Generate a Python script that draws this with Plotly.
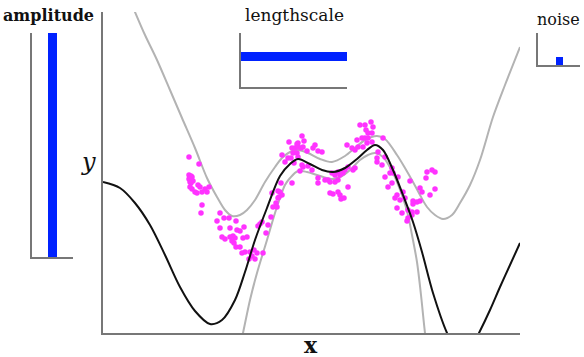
import plotly.graph_objects as go

# ---- GP mean and +/- 2 sd curves (x, y in chart units) ----
mean_x = [0, 17, 32, 47, 62, 77, 92, 107, 119, 132, 142, 152, 164, 177, 187, 195, 207, 219, 230, 242, 254, 264, 272, 280, 290, 300, 310, 319, 330, 344, 352, 360, 368, 376, 387, 397, 407, 417]
mean_y = [151, 145, 130, 108, 78, 46, 22, 9, 13, 33, 61, 93, 125, 157, 169, 174, 169, 163, 161, 165, 174, 183, 188, 183, 163, 138, 111, 81, 40, 0, -15, -22, -15, 0, 23, 46, 68, 90]

upper_x = [27, 32, 42, 54, 67, 79, 92, 104, 114, 122, 129, 137, 144, 152, 162, 172, 179, 187, 195, 205, 217, 229, 242, 252, 262, 274, 282, 294, 302, 310, 317, 324, 332, 340, 349, 357, 367, 377, 390, 402, 417]
upper_y = [333, 321, 298, 273, 243, 215, 185, 155, 136, 123, 117, 118, 123, 133, 151, 166, 175, 181, 183, 180, 174, 171, 177, 185, 193, 197, 194, 178, 165, 151, 138, 126, 118, 114, 118, 130, 148, 173, 216, 248, 286]

lower_x = [135, 140, 147, 154, 164, 172, 177, 182, 187, 195, 204, 214, 229, 239, 247, 257, 265, 272, 280, 290, 300, 305, 309, 314, 318, 322, 325]
lower_y = [-22, 0, 33, 60, 93, 120, 135, 148, 155, 162, 161, 158, 154, 157, 163, 173, 178, 180, 176, 160, 135, 118, 98, 71, 38, 0, -22]

# ---- observations ----
obs_x = [86, 96, 86, 88, 89, 86, 87, 90, 88, 87, 89, 92, 94, 95, 97, 99, 102, 104, 106, 99, 98,
         117, 121, 126, 114, 133, 117, 127, 134, 137, 141, 119, 122, 127, 130, 132, 129, 140, 144, 131, 133, 137, 139, 142, 147, 151, 154, 149, 146, 152, 160,
         155, 159, 157, 163, 168, 170, 173, 176, 177, 175, 169, 179, 175, 174, 178, 189, 179, 165,
         186, 195, 199, 201, 194, 189, 192, 195, 198, 190, 194, 200, 204, 210, 212, 215, 219, 185, 188, 195, 191, 199, 205, 197, 200, 182,
         215, 215, 222, 225, 227, 229, 232, 235, 237, 240, 235, 232, 227, 230, 235, 237, 238, 245, 241, 245, 242, 244, 249, 209,
         257, 262, 268, 270, 263, 265, 269, 254, 259, 262, 265, 269, 264, 255, 260, 252, 280, 275, 282, 274, 274, 252, 250, 279,
         289, 287, 290, 282, 295, 307, 289, 285, 300, 294, 292, 302, 297, 310, 314, 317, 310, 294, 299, 309, 314, 305, 304, 309, 305,
         324, 329, 332, 323, 317, 332, 319, 327]
obs_y = [176, 169, 158, 157, 156, 154, 151, 152, 150, 146, 144, 141, 140, 148, 146, 141, 144, 141, 146, 128, 120,
         120, 115, 115, 112, 112, 105, 105, 103, 102, 106, 96, 94, 96, 97, 95, 92, 95, 96, 90, 86, 86, 80, 81, 81, 83, 80, 77, 74, 74, 80,
         107, 111, 109, 100, 116, 126, 130, 136, 141, 142, 140, 138, 135, 126, 150, 150, 178, 108,
         191, 190, 197, 192, 189, 185, 185, 186, 185, 180, 180, 186, 182, 185, 188, 182, 181, 175, 175, 176, 170, 168, 167, 162, 166, 171,
         150, 155, 153, 153, 151, 160, 158, 161, 158, 160, 153, 151, 140, 139, 141, 138, 134, 146, 135, 166, 163, 188, 185, 163,
         208, 208, 211, 206, 203, 200, 200, 193, 195, 195, 195, 191, 190, 186, 186, 183, 195, 181, 176, 175, 171, 165, 163, 168,
         165, 160, 160, 156, 156, 152, 150, 146, 141, 138, 135, 135, 133, 132, 131, 132, 129, 125, 120, 121, 121, 115, 112, 118, 123,
         161, 163, 161, 155, 145, 144, 141, 138]

# ---- hyperparameter insets ----
amplitude = [1.0]
lengthscale = [1.0]
noise = [0.25]

W, H = 584, 357

def dx(a, b):
    return [a / W, b / W]

def dy(top, bottom):
    return [1 - bottom / H, 1 - top / H]

fig = go.Figure()

fig.add_trace(go.Scatter(x=upper_x, y=upper_y, mode="lines", line=dict(color="#b3b3b3", width=2, shape="spline", smoothing=0.9), showlegend=False))
fig.add_trace(go.Scatter(x=lower_x, y=lower_y, mode="lines", line=dict(color="#b3b3b3", width=2, shape="spline", smoothing=0.9), showlegend=False))
fig.add_trace(go.Scatter(x=obs_x, y=obs_y, mode="markers", marker=dict(color="#ff33ff", size=5.5, line=dict(width=0)), showlegend=False))
fig.add_trace(go.Scatter(x=mean_x, y=mean_y, mode="lines", line=dict(color="#111111", width=2, shape="spline", smoothing=0.9), showlegend=False))

# amplitude inset (vertical bar)
fig.add_trace(go.Bar(x=[0.5], y=amplitude, width=0.2, marker=dict(color="#0022ff", line=dict(width=0)),
                     xaxis="x2", yaxis="y2", showlegend=False))
# lengthscale inset (horizontal bar)
fig.add_trace(go.Bar(x=lengthscale, y=[0.57], width=0.17, orientation="h", marker=dict(color="#0022ff", line=dict(width=0)),
                     xaxis="x3", yaxis="y3", showlegend=False))
# noise inset
fig.add_trace(go.Bar(x=[0.51], y=noise, width=0.17, marker=dict(color="#0022ff", line=dict(width=0)),
                     xaxis="x4", yaxis="y4", showlegend=False))

axcommon = dict(showgrid=False, zeroline=False, showticklabels=False, ticks="", showline=True,
                linecolor="#777777", linewidth=1.5, fixedrange=True)

fig.update_layout(
    width=W, height=H,
    margin=dict(l=0, r=0, t=0, b=0),
    paper_bgcolor="white", plot_bgcolor="white",
    xaxis=dict(domain=dx(103, 520), range=[0, 417], **axcommon),
    yaxis=dict(domain=dy(12, 333), range=[0, 321], **axcommon),
    xaxis2=dict(domain=dx(32, 73), range=[0, 1], anchor="y2", **axcommon),
    yaxis2=dict(domain=dy(33, 257), range=[0, 1], anchor="x2", **axcommon),
    xaxis3=dict(domain=dx(241, 347), range=[0, 1], anchor="y3", **axcommon),
    yaxis3=dict(domain=dy(33, 87), range=[0, 1], anchor="x3", **axcommon),
    xaxis4=dict(domain=dx(538, 580), range=[0, 1], anchor="y4", **axcommon),
    yaxis4=dict(domain=dy(33, 65), range=[0, 1], anchor="x4", **axcommon),
    bargap=0,
)

def label(text, x, y, size, bold=False, italic=False):
    t = text
    if bold:
        t = "<b>" + t + "</b>"
    if italic:
        t = "<i>" + t + "</i>"
    fig.add_annotation(text=t, x=x / W, y=1 - y / H, xref="paper", yref="paper",
                       showarrow=False, xanchor="center", yanchor="middle",
                       font=dict(family="DejaVu Serif", size=size, color="#111111"))

label("amplitude", 48, 16, 16, bold=True)
label("lengthscale", 294, 15, 17)
label("noise", 558, 19, 16)
label("y", 88, 162, 24, italic=True)
label("x", 311, 345, 22, bold=True)

fig.write_html("out.html", config={"displayModeBar": False},
               post_script="document.body.style.margin='0';document.documentElement.style.margin='0';")
